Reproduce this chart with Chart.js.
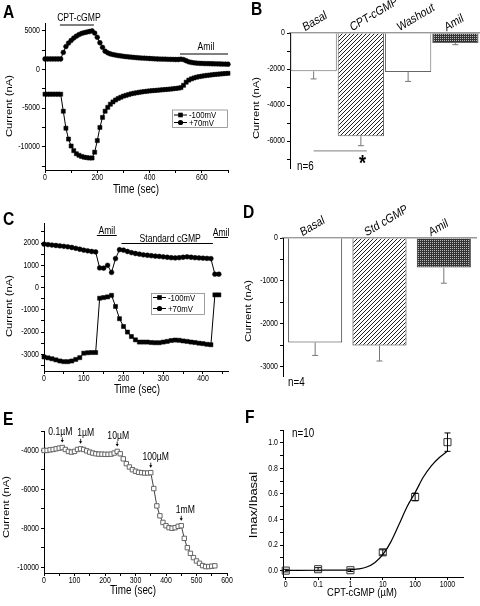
<!DOCTYPE html>
<html>
<head>
<meta charset="utf-8">
<title>cGMP currents</title>
<script src="https://cdn.jsdelivr.net/npm/chart.js@4.4.1/dist/chart.umd.min.js"></script>
<style>
  body { margin: 0; background: #fff; }
  #fig { position: relative; width: 480px; height: 606px; overflow: hidden; }
  #fig canvas { position: absolute; }
</style>
</head>
<body>
<div id="fig">
  <canvas id="pA"></canvas><canvas id="pB"></canvas>
  <canvas id="pC"></canvas><canvas id="pD"></canvas>
  <canvas id="pE"></canvas><canvas id="pF"></canvas>
</div>
<script>
// ---- panel A: current vs time, one point every 10 s ----
const timeA = [0,10,20,30,40,50,60,70,80,90,100,110,120,130,140,150,160,170,180,190,200,210,220,230,240,250,260,270,280,290,300,310,320,330,340,350,360,370,380,390,400,410,420,430,440,450,460,470,480,490,500,510,520,530,540,550,560,570,580,590,600,610,620,630,640,650,660,670,680,690,700];
const aNeg100 = [-3200,-3200,-3200,-3200,-3200,-3200,-3200,
  -5400,-7600,-9000,-9900,-10500,-10900,-11100,-11250,-11350,-11400,-11450,-11450,
  -10700,-9200,-7500,-6200,-5400,-4900,-4500,-4200,-3950,-3750,-3600,
  -3450,-3350,-3250,-3150,-3080,-3020,-2960,-2910,-2860,-2820,
  -2780,-2750,-2720,-2690,-2660,-2630,-2600,-2570,-2540,-2500,
  -2460,-2420,-2350,-2050,-1650,-1380,-1220,-1100,-1000,-930,
  -870,-820,-770,-730,-690,-650,-620,-590,-560,-530,-500];
const aPos70 = [1350,1350,1350,1350,1350,1350,1350,
  2200,2950,3400,3750,4050,4300,4500,4650,4750,4830,4900,4980,
  4700,4150,3450,2850,2350,2150,2000,1920,1850,1790,1740,
  1690,1650,1610,1580,1550,1520,1490,1470,1450,1430,
  1410,1390,1370,1350,1340,1330,1320,1310,1300,1290,
  1280,1280,1320,1270,1120,980,900,850,810,790,
  770,760,750,740,730,720,710,700,690,680,670];
const treatA = ['CPT-cGMP', 'Amil'];
const treatStartA = [57, 516];
const treatEndA = [187, 700];

// ---- panel B: mean current (n=6) ----
const condB = ['Basal', 'CPT-cGMP', 'Washout', 'Amil'];
const meanB = [-2130, -5740, -2170, -560];
const errB = [420, 520, 520, 90];

// ---- panel C: current vs time ----
const timeC = [0,10,20,30,40,50,60,70,80,90,100,110,120,130,140,150,160,170,180,190,200,210,220,230,240,250,260,270,280,290,300,310,320,330,340,350,360,370,380,390,400,410,420,430,440];
const cNeg100 = [-3120,-3160,-3200,-3250,-3300,-3330,-3330,-3300,-3230,-3150,
  -2950,-2930,-2920,-2920,-480,-450,-420,-350,-850,-1400,
  -1750,-2000,-2200,-2350,-2450,-2450,-2450,-2470,-2480,-2480,
  -2450,-2420,-2380,-2360,-2370,-2400,-2420,-2450,-2470,-2500,
  -2520,-2550,-2570,-330,-330];
const cPos70 = [1950,1930,1910,1890,1870,1850,1830,1800,1760,1720,
  1680,1650,1620,1600,880,870,1000,680,1300,1700,
  1680,1620,1570,1530,1500,1470,1450,1430,1410,1400,
  1380,1360,1340,1330,1340,1360,1380,1360,1340,1330,
  1320,1310,1300,600,600];
const treatC = ['Amil', 'Standard cGMP', 'Amil'];
const treatStartC = [133, 195, 428];
const treatEndC = [183, 425, 463];

// ---- panel D: mean current (n=4) ----
const condD = ['Basal', 'Std cGMP', 'Amil'];
const meanD = [-2440, -2510, -690];
const errD = [300, 360, 365];

// ---- panel E: cumulative CPT-cGMP doses ----
const timeE = [0,10,20,30,40,50,60,70,80,90,100,110,120,130,140,150,160,170,180,190,200,210,220,230,240,250,260,270,280,290,300,310,320,330,340,350,360,370,380,390,400,410,420,430,440,450,460,470,480,490,500,510,520,530,540,550,560];
const eCur = [-4000,-4000,-3970,-3950,-3915,-3880,-3850,-3950,-4050,-4085,
  -4050,-3950,-3915,-3950,-4020,-4085,-4135,-4170,-4190,-4190,
  -4200,-4200,-4190,-4135,-4050,-4170,-4430,-4680,-4850,-4990,
  -5070,-5125,-5140,-5160,-5160,-5140,-5960,-6850,-7360,-7700,
  -7870,-7970,-8000,-7970,-7900,-7870,-8520,-9000,-9290,-9510,
  -9680,-9800,-9920,-9970,-9970,-9950,-9930];
const doseE = ['0.1\u00b5M', '1\u00b5M', '10\u00b5M', '100\u00b5M', '1mM'];
const doseTimeE = [60, 120, 240, 350, 450];

// ---- panel F: dose response (n=10), log axis with "0" one decade left of 0.1 ----
const concLabels = ['0', '0.1', '1', '10', '100', '1000'];
const concPos = [-2, -1, 0, 1, 2, 3];
const fMean = [0.0, 0.011, 0.003, 0.143, 0.576, 1.005];
const fErr = [0.01, 0.012, 0.01, 0.02, 0.03, 0.072];
const fitX = [-2, -1, 0, 0.25, 0.5, 0.75, 1, 1.25, 1.5, 1.75, 2, 2.25, 2.5, 2.75, 3];
const fitY = [0.002, 0.003, 0.006, 0.013, 0.028, 0.062, 0.125, 0.225, 0.36, 0.5, 0.61, 0.73, 0.82, 0.885, 0.935];

const SANS = "'Liberation Sans', Arial, sans-serif";
const SQ = 0.82;   // the original figure is squeezed horizontally

const every = n => v => (Math.abs(Math.round(v) % n) === 0 ? String(Math.round(v)) : '');
const pts = (xs, ys) => xs.map((x, i) => ({ x, y: ys[i] }));

// squeezed text, like the source figure
function txt(c, s, x, y, font, align, base, rot) {
  c.save();
  c.translate(x, y);
  c.scale(SQ, 1);
  if (rot) c.rotate(rot);
  c.font = font;
  c.fillStyle = '#000';
  c.textAlign = align || 'center';
  c.textBaseline = base || 'alphabetic';
  c.fillText(s, 0, 0);
  c.restore();
}

function seg(c, x1, y1, x2, y2, color, w) {
  c.beginPath();
  c.moveTo(x1, y1);
  c.lineTo(x2, y2);
  c.strokeStyle = color || '#000';
  c.lineWidth = w || 1;
  c.stroke();
}

function legend(c, x, y, w, h, rows) {
  c.strokeStyle = '#888';
  c.lineWidth = 0.8;
  c.strokeRect(x + 0.5, y + 0.5, w, h);
  ['-100mV', '+70mV'].forEach((name, i) => {
    const ry = y + rows[i];
    seg(c, x + 2, ry, x + 15, ry);
    c.fillStyle = '#000';
    if (i === 0) c.fillRect(x + 6.2, ry - 2.3, 4.6, 4.6);
    else { c.beginPath(); c.arc(x + 8.5, ry, 2.6, 0, Math.PI * 2); c.fill(); }
    txt(c, name, x + 17, ry + 0.5, '9.5px ' + SANS, 'left', 'middle');
  });
}

function tile(size, paint) {
  const cv = document.createElement('canvas');
  cv.width = cv.height = size;
  const g = cv.getContext('2d');
  paint(g);
  return g.createPattern(cv, 'repeat');
}
const hatch = tile(4, g => {
  g.fillStyle = '#fff'; g.fillRect(0, 0, 4, 4);
  g.strokeStyle = '#222'; g.lineWidth = 1;
  g.beginPath();
  g.moveTo(0, 4); g.lineTo(4, 0);
  g.moveTo(-1, 1); g.lineTo(1, -1);
  g.moveTo(3, 5); g.lineTo(5, 3);
  g.stroke();
});
const dots = tile(2, g => {
  g.fillStyle = '#333'; g.fillRect(0, 0, 2, 2);
  g.fillStyle = '#bbb'; g.fillRect(0, 0, 1, 1);
});

// ticks on every multiple of step inside the axis range
const stepTicks = step => s => {
  const out = [];
  for (let k = Math.ceil(s.min / step - 1e-9); k * step <= s.max + 1e-9; k++) {
    out.push({ value: Math.round(k * step * 1e6) / 1e6 });
  }
  s.ticks = out;
};

function yAxis(min, max, step, width) {
  return {
    type: 'linear', position: 'left', min, max,
    ticks: { display: false },
    grid: { drawOnChartArea: false, tickLength: 3, color: '#000' },
    border: { color: '#000' },
    afterBuildTicks: stepTicks(step),
    afterFit: s => { s.width = width; }
  };
}
function xAxis(min, max, step, height) {
  return {
    type: 'linear', position: 'bottom', min, max,
    ticks: { display: false },
    grid: { drawOnChartArea: false, tickLength: 3, color: '#000' },
    border: { color: '#000' },
    afterBuildTicks: stepTicks(step),
    afterFit: s => { s.height = height; }
  };
}
function catAxis(height) {
  return {
    type: 'category', position: 'top',
    ticks: { display: false },
    grid: { display: false, drawTicks: false },
    border: { color: '#999', width: 1.5 },
    afterFit: s => { s.height = height; }
  };
}

// tick labels from the scale's own ticks
function tickLabels(c, chart, box, fx, fy) {
  const f = '8.5px ' + SANS;
  const xs = chart.scales.x, ys = chart.scales.y;
  if (fy) ys.ticks.forEach((t, i) => {
    const l = fy(t.value, i);
    if (l) txt(c, l, box.x + ys.right - 5, box.y + ys.getPixelForValue(t.value), f, 'right', 'middle');
  });
  if (fx) xs.ticks.forEach((t, i) => {
    const l = fx(t.value, i);
    if (l) txt(c, l, box.x + xs.getPixelForValue(t.value), box.y + xs.top + 3.5, f, 'center', 'top');
  });
}
function catLabels(c, chart, box, names, shift) {
  const xs = chart.scales.x;
  names.forEach((n, i) => {
    txt(c, n, box.x + xs.getPixelForValue(i) + shift, box.y + xs.bottom - 1.5, '12.5px ' + SANS, 'left', 'alphabetic', -26 * Math.PI / 180);
  });
}

function panel(id, box, pad, config, deco) {
  const cv = document.getElementById(id);
  cv.width = box.w; cv.height = box.h;
  cv.style.left = box.x + 'px';
  cv.style.top = box.y + 'px';
  config.options = Object.assign({
    responsive: false, animation: false, devicePixelRatio: 1,
    layout: { padding: pad },
    plugins: { legend: { display: false }, tooltip: { enabled: false } }
  }, config.options);
  config.plugins = [{
    id: 'deco',
    afterDraw(chart) {
      const c = chart.ctx;
      const X = v => chart.scales.x.getPixelForValue(v) + box.x;
      const Y = v => chart.scales.y.getPixelForValue(v) + box.y;
      c.save();
      c.translate(-box.x, -box.y);
      deco(c, chart, X, Y);
      c.restore();
    }
  }];
  return new Chart(cv, config);
}

const sqStyle = { borderColor: '#000', borderWidth: 1, pointStyle: 'rect', pointRadius: 2.9, pointBackgroundColor: '#000', pointBorderColor: '#000', pointBorderWidth: 0.5, clip: false };
const ciStyle = { borderColor: '#000', borderWidth: 1, pointStyle: 'circle', pointRadius: 2.4, pointBackgroundColor: '#000', pointBorderColor: '#000', pointBorderWidth: 0.5, clip: false };
const ROT = -Math.PI / 2;

// A
const boxA = { x: 0, y: 0, w: 240, h: 200 };
panel('pA', boxA, { top: 23, right: 12, left: 0, bottom: 0 }, {
  type: 'line',
  data: { datasets: [
    Object.assign({ data: pts(timeA, aNeg100) }, sqStyle),
    Object.assign({ data: pts(timeA, aPos70) }, ciStyle)
  ] },
  options: { scales: { x: xAxis(0, 700, 100, 30), y: yAxis(-13000, 6000, 2500, 45) } }
}, (c, chart, X) => {
  tickLabels(c, chart, boxA, every(200), every(5000));
  txt(c, 'A', 3, 18, 'bold 19px ' + SANS, 'left');
  txt(c, 'Current (nA)', 9, 106, '11.3px ' + SANS, 'center', 'middle', ROT);
  txt(c, 'Time (sec)', 136, 190, '12px ' + SANS, 'center', 'middle');
  const ly = [25, 54];
  treatA.forEach((t, i) => {
    const x1 = X(treatStartA[i]), x2 = X(treatEndA[i]);
    seg(c, x1, ly[i], x2, ly[i]);
    txt(c, t, (x1 + x2) / 2 + 2, ly[i] - 4, '10.5px ' + SANS);
  });
  legend(c, 172, 109.5, 55, 17.5, [5.5, 13]);
});

// B
const boxB = { x: 240, y: 0, w: 240, h: 200 };
panel('pB', boxB, { top: 0, right: 1, left: 0, bottom: 32 }, {
  type: 'bar',
  data: { labels: condB, datasets: [{
    data: meanB, backgroundColor: ['#fff', hatch, '#fff', dots],
    borderColor: '#666', borderWidth: 1, borderSkipped: 'start',
    categoryPercentage: 0.98, barPercentage: 1
  }] },
  options: { scales: { x: catAxis(33), y: yAxis(-7500, 0, 1000, 50) } }
}, (c, chart, X, Y) => {
  tickLabels(c, chart, boxB, null, every(2000));
  catLabels(c, chart, boxB, condB, -9);
  txt(c, 'B', 251, 15, 'bold 19px ' + SANS, 'left');
  txt(c, 'Current (nA)', 256, 108, '11.3px ' + SANS, 'center', 'middle', ROT);
  const bars = chart.getDatasetMeta(0).data;
  meanB.forEach((m, i) => {
    const bx = bars[i].x + boxB.x, y1 = Y(m - errB[i]);
    seg(c, bx, Y(m), bx, y1, '#777');
    seg(c, bx - 3, y1, bx + 3, y1, '#777');
  });
  seg(c, bars[0].x + boxB.x, Y(-6550), bars[1].x + boxB.x + 6, Y(-6550), '#999', 1.2);
  txt(c, '*', 362.5, Y(-7280), 'bold 22px ' + SANS, 'center', 'middle');
  txt(c, 'n=6', 297, 170, '12px ' + SANS, 'left');
});

// C
const boxC = { x: 0, y: 200, w: 240, h: 200 };
panel('pC', boxC, { top: 23, right: 12, left: 0, bottom: 0 }, {
  type: 'line',
  data: { datasets: [
    Object.assign({ data: pts(timeC, cNeg100) }, sqStyle),
    Object.assign({ data: pts(timeC, cPos70) }, ciStyle)
  ] },
  options: { scales: { x: xAxis(0, 463, 50, 29), y: yAxis(-3750, 2900, 500, 44) } }
}, (c, chart, X) => {
  tickLabels(c, chart, boxC, every(100), every(1000));
  txt(c, 'C', 3, 225, 'bold 19px ' + SANS, 'left');
  txt(c, 'Current (nA)', 9, 306, '11.3px ' + SANS, 'center', 'middle', ROT);
  txt(c, 'Time (sec)', 137, 390, '12px ' + SANS, 'center', 'middle');
  const ly = [235.5, 243.5, 237.5];
  treatC.forEach((t, i) => {
    const x1 = X(treatStartC[i]), x2 = X(treatEndC[i]);
    seg(c, x1, ly[i], x2, ly[i]);
    txt(c, t, (x1 + x2) / 2 + (i === 1 ? 3 : 0), ly[i] - 2, '10.5px ' + SANS);
  });
  legend(c, 151, 293, 53, 21, [4.5, 15.5]);
});

// D
const boxD = { x: 240, y: 200, w: 240, h: 200 };
panel('pD', boxD, { top: 0, right: 4, left: 0, bottom: 24 }, {
  type: 'bar',
  data: { labels: condD, datasets: [{
    data: meanD, backgroundColor: ['#fff', hatch, dots],
    borderColor: '#333', borderWidth: 1, borderSkipped: 'start',
    categoryPercentage: 0.84, barPercentage: 1
  }] },
  options: { scales: { x: catAxis(38), y: yAxis(-3220, 0, 500, 43) } }
}, (c, chart, X, Y) => {
  tickLabels(c, chart, boxD, null, every(1000));
  catLabels(c, chart, boxD, condD, -13);
  txt(c, 'D', 243, 218, 'bold 19px ' + SANS, 'left');
  txt(c, 'Current (nA)', 248, 311, '11.3px ' + SANS, 'center', 'middle', ROT);
  const bars = chart.getDatasetMeta(0).data;
  meanD.forEach((m, i) => {
    const bx = bars[i].x + boxD.x, y1 = Y(m - errD[i]);
    seg(c, bx, Y(m), bx, y1, '#777');
    seg(c, bx - 3, y1, bx + 3, y1, '#777');
  });
  txt(c, 'n=4', 288, 386, '12px ' + SANS, 'left');
});

// E
const boxE = { x: 0, y: 400, w: 240, h: 206 };
panel('pE', boxE, { top: 31, right: 13, left: 0, bottom: 0 }, {
  type: 'line',
  data: { datasets: [{
    data: pts(timeE, eCur), borderColor: '#111', borderWidth: 0.8,
    pointStyle: 'rect', pointRadius: 3.1, pointBackgroundColor: '#fff',
    pointBorderColor: '#666', pointBorderWidth: 1, clip: false
  }] },
  options: { scales: { x: xAxis(0, 600, 50, 33), y: yAxis(-10300, -3000, 1000, 44) } }
}, (c, chart, X, Y) => {
  tickLabels(c, chart, boxE, every(100), every(2000));
  txt(c, 'E', 3, 425, 'bold 19px ' + SANS, 'left');
  txt(c, 'Current (nA)', 6, 507, '11.3px ' + SANS, 'center', 'middle', ROT);
  txt(c, 'Time (sec)', 133, 591, '12px ' + SANS, 'center', 'middle');
  const dx = [-2, 5, 1, 5, 4];
  doseE.forEach((d, i) => {
    const t = doseTimeE[i];
    const px = X(t), py = Y(eCur[timeE.indexOf(t)]);
    const tip = py - 5;
    seg(c, px, tip - 5, px, tip - 1.5, '#000', 0.8);
    c.beginPath();
    c.moveTo(px - 1.6, tip - 2.5); c.lineTo(px + 1.6, tip - 2.5); c.lineTo(px, tip);
    c.closePath(); c.fillStyle = '#000'; c.fill();
    txt(c, d, px + dx[i], tip - 7.5, '10.5px ' + SANS);
  });
});

// F
const boxF = { x: 240, y: 400, w: 240, h: 206 };
panel('pF', boxF, { top: 30, right: 17, left: 0, bottom: 0 }, {
  type: 'line',
  data: { datasets: [
    { data: pts(fitX, fitY), borderColor: '#000', borderWidth: 1.2, pointRadius: 0, cubicInterpolationMode: 'monotone' },
    { data: pts(concPos, fMean), showLine: false, pointStyle: 'rect', pointRadius: 5,
      pointBackgroundColor: 'rgba(0,0,0,0)', pointBorderColor: '#333', pointBorderWidth: 1, clip: false }
  ] },
  options: { scales: {
    x: Object.assign(xAxis(-2.085, 3.48, 1, 29), {
      afterBuildTicks: s => { s.ticks = concPos.map(v => ({ value: v })); }
    }),
    y: yAxis(-0.05, 1.1, 0.1, 43)
  } }
}, (c, chart, X, Y) => {
  tickLabels(c, chart, boxF, (v, i) => concLabels[i],
    v => (Math.round(v * 10) % 2 === 0 ? (Math.round(v * 10) / 10).toFixed(1) : ''));
  txt(c, 'F', 245, 423, 'bold 19px ' + SANS, 'left');
  txt(c, 'Imax/Ibasal', 254, 505, '13px ' + SANS, 'center', 'middle', ROT);
  txt(c, 'CPT-cGMP (\u00b5M)', 362, 593, '11.5px ' + SANS, 'center', 'middle');
  txt(c, 'n=10', 292, 437, '12px ' + SANS, 'left');
  fMean.forEach((m, i) => {
    const px = X(concPos[i]), y1 = Y(m - fErr[i]), y2 = Y(m + fErr[i]);
    seg(c, px, y1, px, y2, '#000', 1);
    seg(c, px - 3, y1, px + 3, y1, '#000', 1);
    seg(c, px - 3, y2, px + 3, y2, '#000', 1);
  });
});
</script>
</body>
</html>
